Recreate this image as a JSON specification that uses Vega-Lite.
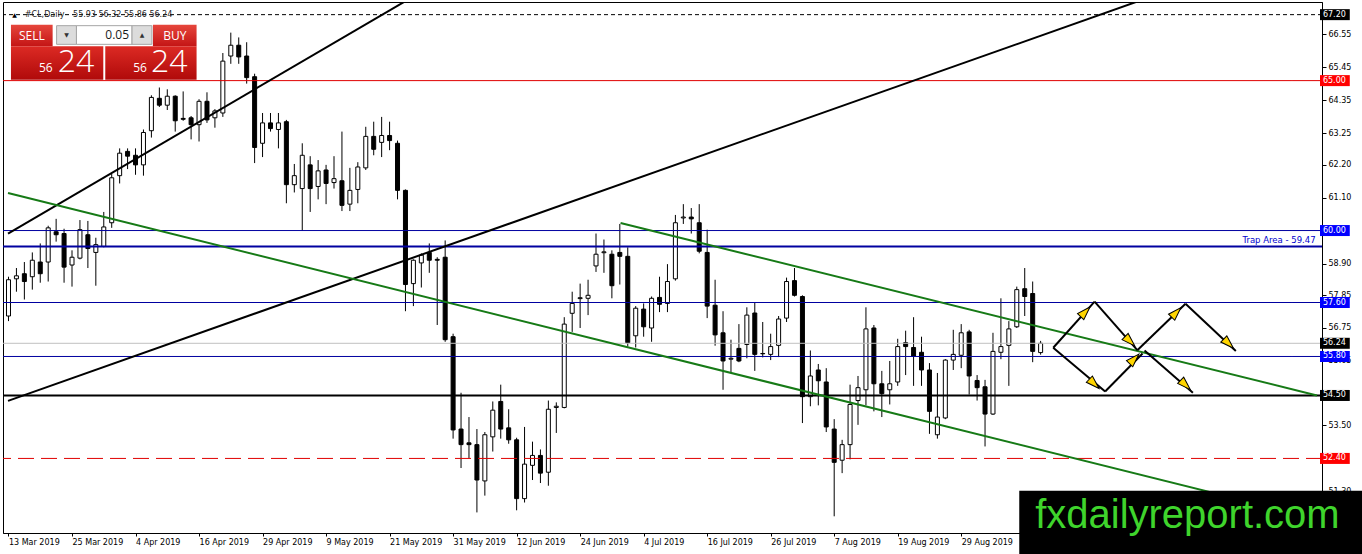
{
  "$schema": "https://vega.github.io/schema/vega-lite/v6.json",
  "description": "#CL Daily candlestick chart with trend lines, levels and projected path",
  "width": 1319,
  "height": 531,
  "autosize": {"type": "none"},
  "padding": {"left": 3, "top": 2, "right": 40, "bottom": 21},
  "background": "white",
  "config": {
    "view": {"stroke": "#000000", "strokeWidth": 1},
    "font": "DejaVu Sans",
    "axis": {"grid": false}
  },
  "datasets": {
    "candles": [
      {"i": 0, "o": 57.15, "h": 58.46, "l": 56.98, "c": 58.36},
      {"i": 1, "o": 58.39, "h": 58.75, "l": 57.96, "c": 58.49},
      {"i": 2, "o": 58.56, "h": 58.95, "l": 57.70, "c": 58.30},
      {"i": 3, "o": 58.46, "h": 59.27, "l": 58.03, "c": 59.01},
      {"i": 4, "o": 58.95, "h": 59.57, "l": 58.26, "c": 58.56},
      {"i": 5, "o": 58.95, "h": 60.16, "l": 58.30, "c": 60.09},
      {"i": 6, "o": 59.96, "h": 60.39, "l": 59.63, "c": 59.86},
      {"i": 7, "o": 59.90, "h": 60.06, "l": 58.26, "c": 58.78},
      {"i": 8, "o": 58.85, "h": 59.34, "l": 58.13, "c": 59.11},
      {"i": 9, "o": 59.08, "h": 60.35, "l": 59.04, "c": 60.03},
      {"i": 10, "o": 59.86, "h": 60.32, "l": 58.75, "c": 59.40},
      {"i": 11, "o": 59.27, "h": 59.76, "l": 58.16, "c": 59.53},
      {"i": 12, "o": 59.47, "h": 60.62, "l": 59.44, "c": 60.12},
      {"i": 13, "o": 60.26, "h": 61.89, "l": 60.09, "c": 61.76},
      {"i": 14, "o": 61.83, "h": 62.74, "l": 61.57, "c": 62.58},
      {"i": 15, "o": 62.64, "h": 62.74, "l": 62.05, "c": 62.48},
      {"i": 16, "o": 62.51, "h": 62.74, "l": 61.86, "c": 62.19},
      {"i": 17, "o": 62.19, "h": 63.37, "l": 61.83, "c": 63.27},
      {"i": 18, "o": 63.33, "h": 64.51, "l": 63.10, "c": 64.44},
      {"i": 19, "o": 64.41, "h": 64.77, "l": 64.12, "c": 64.18},
      {"i": 20, "o": 64.18, "h": 64.71, "l": 64.02, "c": 64.48},
      {"i": 21, "o": 64.48, "h": 64.51, "l": 63.30, "c": 63.66},
      {"i": 22, "o": 63.74, "h": 64.64, "l": 63.66, "c": 63.71},
      {"i": 23, "o": 63.76, "h": 63.82, "l": 63.04, "c": 63.53},
      {"i": 24, "o": 63.53, "h": 64.38, "l": 62.97, "c": 64.31},
      {"i": 25, "o": 64.31, "h": 64.61, "l": 63.59, "c": 63.69},
      {"i": 26, "o": 63.76, "h": 64.05, "l": 63.43, "c": 63.99},
      {"i": 27, "o": 63.92, "h": 65.92, "l": 63.79, "c": 65.65},
      {"i": 28, "o": 65.82, "h": 66.60, "l": 65.56, "c": 66.18},
      {"i": 29, "o": 66.18, "h": 66.44, "l": 65.56, "c": 65.79},
      {"i": 30, "o": 65.82, "h": 66.28, "l": 64.90, "c": 65.10},
      {"i": 31, "o": 65.13, "h": 65.23, "l": 62.25, "c": 62.77},
      {"i": 32, "o": 62.91, "h": 63.92, "l": 62.45, "c": 63.59},
      {"i": 33, "o": 63.59, "h": 63.92, "l": 63.30, "c": 63.40},
      {"i": 34, "o": 63.37, "h": 63.92, "l": 62.74, "c": 63.59},
      {"i": 35, "o": 63.63, "h": 63.69, "l": 60.91, "c": 61.53},
      {"i": 36, "o": 61.53, "h": 62.22, "l": 61.27, "c": 61.83},
      {"i": 37, "o": 61.40, "h": 62.91, "l": 59.99, "c": 62.51},
      {"i": 38, "o": 62.19, "h": 62.48, "l": 60.62, "c": 61.40},
      {"i": 39, "o": 61.47, "h": 62.35, "l": 61.04, "c": 61.99},
      {"i": 40, "o": 62.02, "h": 62.19, "l": 60.88, "c": 61.57},
      {"i": 41, "o": 61.60, "h": 62.48, "l": 61.40, "c": 61.73},
      {"i": 42, "o": 61.66, "h": 63.30, "l": 60.65, "c": 60.84},
      {"i": 43, "o": 60.88, "h": 62.09, "l": 60.65, "c": 61.34},
      {"i": 44, "o": 61.37, "h": 62.28, "l": 60.91, "c": 62.12},
      {"i": 45, "o": 62.09, "h": 63.46, "l": 62.02, "c": 63.14},
      {"i": 46, "o": 63.14, "h": 63.63, "l": 62.51, "c": 62.71},
      {"i": 47, "o": 62.94, "h": 63.79, "l": 62.45, "c": 63.17},
      {"i": 48, "o": 63.17, "h": 63.63, "l": 62.68, "c": 63.00},
      {"i": 49, "o": 62.91, "h": 63.00, "l": 61.04, "c": 61.34},
      {"i": 50, "o": 61.34, "h": 61.37, "l": 57.31, "c": 58.20},
      {"i": 51, "o": 58.23, "h": 59.04, "l": 57.48, "c": 59.01},
      {"i": 52, "o": 58.92, "h": 59.24, "l": 58.10, "c": 59.18},
      {"i": 53, "o": 59.27, "h": 59.57, "l": 58.59, "c": 59.01},
      {"i": 54, "o": 59.04, "h": 59.11, "l": 56.85, "c": 59.01},
      {"i": 55, "o": 59.11, "h": 59.67, "l": 56.29, "c": 56.36},
      {"i": 56, "o": 56.46, "h": 56.56, "l": 53.06, "c": 53.35},
      {"i": 57, "o": 53.38, "h": 54.59, "l": 52.08, "c": 52.86},
      {"i": 58, "o": 52.92, "h": 53.78, "l": 52.40, "c": 52.86},
      {"i": 59, "o": 52.86, "h": 53.38, "l": 50.60, "c": 51.68},
      {"i": 60, "o": 51.65, "h": 53.28, "l": 51.16, "c": 53.19},
      {"i": 61, "o": 53.12, "h": 54.30, "l": 52.63, "c": 54.01},
      {"i": 62, "o": 54.30, "h": 54.86, "l": 53.06, "c": 53.38},
      {"i": 63, "o": 53.42, "h": 54.04, "l": 52.89, "c": 53.02},
      {"i": 64, "o": 53.02, "h": 53.09, "l": 50.67, "c": 51.06},
      {"i": 65, "o": 51.06, "h": 53.45, "l": 50.93, "c": 52.21},
      {"i": 66, "o": 52.17, "h": 52.96, "l": 51.68, "c": 52.50},
      {"i": 67, "o": 52.50, "h": 52.70, "l": 51.58, "c": 51.91},
      {"i": 68, "o": 51.94, "h": 54.33, "l": 51.49, "c": 54.04},
      {"i": 69, "o": 54.10, "h": 54.27, "l": 53.25, "c": 54.14},
      {"i": 70, "o": 54.10, "h": 57.11, "l": 54.07, "c": 56.88},
      {"i": 71, "o": 57.24, "h": 57.96, "l": 56.62, "c": 57.57},
      {"i": 72, "o": 57.73, "h": 58.23, "l": 56.75, "c": 57.76},
      {"i": 73, "o": 57.74, "h": 58.36, "l": 57.18, "c": 57.84},
      {"i": 74, "o": 58.82, "h": 59.90, "l": 58.62, "c": 59.21},
      {"i": 75, "o": 59.26, "h": 59.70, "l": 58.59, "c": 59.29},
      {"i": 76, "o": 59.21, "h": 59.34, "l": 57.74, "c": 58.16},
      {"i": 77, "o": 59.27, "h": 60.22, "l": 58.20, "c": 59.14},
      {"i": 78, "o": 59.14, "h": 59.44, "l": 56.13, "c": 56.26},
      {"i": 79, "o": 56.49, "h": 57.48, "l": 56.10, "c": 57.41},
      {"i": 80, "o": 57.38, "h": 57.57, "l": 56.46, "c": 56.79},
      {"i": 81, "o": 56.75, "h": 57.80, "l": 56.29, "c": 57.74},
      {"i": 82, "o": 57.77, "h": 58.46, "l": 57.28, "c": 57.54},
      {"i": 83, "o": 57.57, "h": 58.88, "l": 57.28, "c": 58.30},
      {"i": 84, "o": 58.39, "h": 60.52, "l": 58.33, "c": 60.26},
      {"i": 85, "o": 60.42, "h": 60.88, "l": 60.22, "c": 60.45},
      {"i": 86, "o": 60.45, "h": 60.75, "l": 59.90, "c": 60.39},
      {"i": 87, "o": 60.26, "h": 60.88, "l": 59.24, "c": 59.31},
      {"i": 88, "o": 59.27, "h": 60.03, "l": 57.08, "c": 57.48},
      {"i": 89, "o": 57.51, "h": 58.36, "l": 56.16, "c": 56.52},
      {"i": 90, "o": 56.59, "h": 57.31, "l": 54.69, "c": 55.65},
      {"i": 91, "o": 55.71, "h": 56.36, "l": 55.25, "c": 55.74},
      {"i": 92, "o": 56.07, "h": 56.88, "l": 55.61, "c": 55.65},
      {"i": 93, "o": 56.20, "h": 57.44, "l": 55.74, "c": 57.18},
      {"i": 94, "o": 57.25, "h": 57.61, "l": 55.32, "c": 55.87},
      {"i": 95, "o": 55.90, "h": 56.95, "l": 55.77, "c": 55.89},
      {"i": 96, "o": 55.87, "h": 56.56, "l": 55.68, "c": 56.13},
      {"i": 97, "o": 56.17, "h": 57.15, "l": 55.78, "c": 57.05},
      {"i": 98, "o": 57.08, "h": 58.43, "l": 56.95, "c": 58.30},
      {"i": 99, "o": 58.33, "h": 58.75, "l": 57.80, "c": 57.84},
      {"i": 100, "o": 57.80, "h": 57.84, "l": 53.58, "c": 54.46},
      {"i": 101, "o": 54.46, "h": 56.00, "l": 54.14, "c": 55.15},
      {"i": 102, "o": 55.35, "h": 55.55, "l": 54.17, "c": 54.99},
      {"i": 103, "o": 54.95, "h": 55.41, "l": 53.28, "c": 53.45},
      {"i": 104, "o": 53.38, "h": 53.71, "l": 50.47, "c": 52.27},
      {"i": 105, "o": 52.34, "h": 53.02, "l": 51.91, "c": 52.86},
      {"i": 106, "o": 52.86, "h": 54.86, "l": 52.37, "c": 54.20},
      {"i": 107, "o": 54.33, "h": 55.15, "l": 53.52, "c": 54.76},
      {"i": 108, "o": 54.69, "h": 57.44, "l": 54.17, "c": 56.72},
      {"i": 109, "o": 56.75, "h": 56.85, "l": 53.97, "c": 54.89},
      {"i": 110, "o": 54.89, "h": 55.32, "l": 53.78, "c": 54.56},
      {"i": 111, "o": 54.69, "h": 55.65, "l": 54.20, "c": 54.89},
      {"i": 112, "o": 54.95, "h": 56.39, "l": 54.82, "c": 56.13},
      {"i": 113, "o": 56.26, "h": 56.66, "l": 55.18, "c": 56.13},
      {"i": 114, "o": 56.10, "h": 57.11, "l": 54.82, "c": 55.80},
      {"i": 115, "o": 55.94, "h": 56.46, "l": 54.82, "c": 55.35},
      {"i": 116, "o": 55.35, "h": 55.58, "l": 53.22, "c": 53.97},
      {"i": 117, "o": 53.19, "h": 55.25, "l": 53.06, "c": 53.78},
      {"i": 118, "o": 53.75, "h": 55.71, "l": 53.71, "c": 55.68},
      {"i": 119, "o": 55.68, "h": 56.69, "l": 55.35, "c": 55.87},
      {"i": 120, "o": 55.84, "h": 56.88, "l": 55.41, "c": 56.59},
      {"i": 121, "o": 56.62, "h": 56.69, "l": 54.53, "c": 55.15},
      {"i": 122, "o": 55.00, "h": 55.18, "l": 54.33, "c": 54.76},
      {"i": 123, "o": 54.79, "h": 55.02, "l": 52.80, "c": 53.88},
      {"i": 124, "o": 53.88, "h": 56.59, "l": 53.85, "c": 55.97},
      {"i": 125, "o": 55.94, "h": 57.74, "l": 55.71, "c": 56.13},
      {"i": 126, "o": 56.17, "h": 56.98, "l": 54.82, "c": 56.72},
      {"i": 127, "o": 56.79, "h": 58.13, "l": 56.75, "c": 58.03},
      {"i": 128, "o": 58.06, "h": 58.75, "l": 57.15, "c": 57.80},
      {"i": 129, "o": 57.90, "h": 58.30, "l": 55.61, "c": 55.97},
      {"i": 130, "o": 55.93, "h": 56.32, "l": 55.86, "c": 56.24}
    ],
    "levels": [
      {"p": 67.2, "kind": "high"},
      {"p": 65.0, "kind": "red"},
      {"p": 60.0, "kind": "blue"},
      {"p": 59.47, "kind": "trap"},
      {"p": 57.6, "kind": "blue"},
      {"p": 56.24, "kind": "bid"},
      {"p": 55.8, "kind": "blue"},
      {"p": 54.5, "kind": "support"},
      {"p": 52.4, "kind": "reddash"}
    ],
    "trend": [
      {"line": "b1", "kind": "black", "i": -0.06, "p": 59.90},
      {"line": "b1", "kind": "black", "i": 52, "p": 67.96},
      {"line": "b2", "kind": "black", "i": -0.06, "p": 54.32},
      {"line": "b2", "kind": "black", "i": 142, "p": 67.62},
      {"line": "g1", "kind": "green", "i": -0.06, "p": 61.25},
      {"line": "g1", "kind": "green", "i": 164.81, "p": 50.39},
      {"line": "g2", "kind": "green", "i": 77.09, "p": 60.25},
      {"line": "g2", "kind": "green", "i": 164.81, "p": 54.5}
    ],
    "path": [
      {"seg": 1, "i": 131.59, "p": 56.09}, {"seg": 1, "i": 136.8, "p": 57.63},
      {"seg": 2, "i": 136.8, "p": 57.63}, {"seg": 2, "i": 142.18, "p": 56.01},
      {"seg": 3, "i": 131.59, "p": 56.09}, {"seg": 3, "i": 138.13, "p": 54.63},
      {"seg": 4, "i": 138.13, "p": 54.63}, {"seg": 4, "i": 142.84, "p": 55.9},
      {"seg": 5, "i": 142.18, "p": 56.01}, {"seg": 5, "i": 148.25, "p": 57.56},
      {"seg": 6, "i": 148.25, "p": 57.56}, {"seg": 6, "i": 154.59, "p": 55.98},
      {"seg": 7, "i": 143.09, "p": 56.0}, {"seg": 7, "i": 149.18, "p": 54.59}
    ],
    "heads": [
      {"dir": "up", "i": 135.63, "p": 57.29},
      {"dir": "down", "i": 141.25, "p": 56.31},
      {"dir": "down", "i": 136.75, "p": 54.89},
      {"dir": "up", "i": 141.8, "p": 55.72},
      {"dir": "up", "i": 147.09, "p": 57.27},
      {"dir": "down", "i": 153.68, "p": 56.23},
      {"dir": "down", "i": 148.25, "p": 54.85}
    ],
    "tags": [
      {"p": 67.2, "tone": "black"},
      {"p": 65.0, "tone": "red"},
      {"p": 60.0, "tone": "blue"},
      {"p": 57.6, "tone": "blue"},
      {"p": 56.24, "tone": "black"},
      {"p": 55.8, "tone": "blue"},
      {"p": 54.5, "tone": "black"},
      {"p": 52.4, "tone": "red"}
    ]
  },
  "layer": [
    {
      "data": {"name": "candles"},
      "mark": {"type": "rule", "color": "#000000", "strokeWidth": 1, "clip": true},
      "encoding": {
        "x": {
          "field": "i",
          "type": "quantitative",
          "scale": {"domain": [-0.0625, 164.8125], "nice": false, "zero": false},
          "axis": {
            "values": [0, 8, 16, 24, 32, 40, 48, 56, 64, 72, 80, 88, 96, 104, 112, 120],
            "labelExpr": "['13 Mar 2019','25 Mar 2019','4 Apr 2019','16 Apr 2019','29 Apr 2019','9 May 2019','21 May 2019','31 May 2019','12 Jun 2019','24 Jun 2019','4 Jul 2019','16 Jul 2019','26 Jul 2019','7 Aug 2019','19 Aug 2019','29 Aug 2019'][round(datum.value / 8)]",
            "title": null,
            "grid": false,
            "domainColor": "#000000",
            "tickColor": "#000000",
            "tickSize": 3,
            "labelAlign": "left",
            "labelBaseline": "top",
            "labelPadding": 2,
            "labelFlush": false,
            "labelOverlap": false,
            "labelFont": "DejaVu Sans",
            "labelFontSize": 8,
            "labelColor": "#000000"
          }
        },
        "y": {
          "field": "l",
          "type": "quantitative",
          "scale": {"domain": [50.08, 67.455], "nice": false, "zero": false},
          "axis": {
            "orient": "right",
            "values": [66.55, 65.45, 64.35, 63.25, 62.2, 61.1, 58.9, 57.85, 56.75, 55.65, 53.5, 51.3],
            "format": ".2f",
            "title": null,
            "grid": false,
            "domainColor": "#000000",
            "tickColor": "#000000",
            "tickSize": 4,
            "labelPadding": 2,
            "labelFlush": false,
            "labelOverlap": false,
            "labelFont": "DejaVu Sans",
            "labelFontSize": 8,
            "labelColor": "#000000"
          }
        },
        "y2": {"field": "h"}
      }
    },
    {
      "data": {"name": "candles"},
      "mark": {"type": "bar", "orient": "vertical", "width": 4, "stroke": "#000000", "strokeWidth": 1, "clip": true},
      "encoding": {
        "x": {"field": "i", "type": "quantitative"},
        "y": {"field": "o", "type": "quantitative"},
        "y2": {"field": "c"},
        "fill": {"condition": {"test": "datum.c > datum.o", "value": "#ffffff"}, "value": "#000000"}
      }
    },
    {
      "data": {"name": "levels"},
      "mark": {"type": "rule", "clip": true},
      "encoding": {
        "y": {"field": "p", "type": "quantitative"},
        "color": {
          "condition": [
            {"test": "datum.kind == 'high' || datum.kind == 'support'", "value": "#000000"},
            {"test": "datum.kind == 'red' || datum.kind == 'reddash'", "value": "#e00000"},
            {"test": "datum.kind == 'bid'", "value": "#c0c0c0"}
          ],
          "value": "#0000a0"
        },
        "strokeWidth": {"condition": {"test": "datum.kind == 'trap' || datum.kind == 'support'", "value": 2}, "value": 1},
        "strokeDash": {
          "condition": [
            {"test": "datum.kind == 'high'", "value": [4, 3]},
            {"test": "datum.kind == 'reddash'", "value": [16, 7]}
          ],
          "value": [1, 0]
        }
      }
    },
    {
      "data": {"name": "trend"},
      "mark": {"type": "line", "strokeWidth": 2, "clip": true},
      "encoding": {
        "x": {"field": "i", "type": "quantitative"},
        "y": {"field": "p", "type": "quantitative"},
        "detail": {"field": "line"},
        "color": {"condition": {"test": "datum.kind == 'green'", "value": "#167a16"}, "value": "#000000"}
      }
    },
    {
      "data": {"name": "path"},
      "mark": {"type": "line", "strokeWidth": 2, "color": "#000000", "clip": true},
      "encoding": {
        "x": {"field": "i", "type": "quantitative"},
        "y": {"field": "p", "type": "quantitative"},
        "detail": {"field": "seg"}
      }
    },
    {
      "data": {"name": "heads"},
      "transform": [{"filter": "datum.dir == 'up'"}],
      "mark": {"type": "point", "shape": "M0,-1L0.65,1L-0.65,1Z", "size": 180, "angle": 44, "filled": true, "fill": "#ffd500", "stroke": "#000000", "strokeWidth": 1, "opacity": 1},
      "encoding": {
        "x": {"field": "i", "type": "quantitative"},
        "y": {"field": "p", "type": "quantitative"}
      }
    },
    {
      "data": {"name": "heads"},
      "transform": [{"filter": "datum.dir == 'down'"}],
      "mark": {"type": "point", "shape": "M0,-1L0.65,1L-0.65,1Z", "size": 180, "angle": 134, "filled": true, "fill": "#ffd500", "stroke": "#000000", "strokeWidth": 1, "opacity": 1},
      "encoding": {
        "x": {"field": "i", "type": "quantitative"},
        "y": {"field": "p", "type": "quantitative"}
      }
    },
    {
      "data": {"values": [{}]},
      "mark": {"type": "text", "text": "Trap Area - 59.47", "align": "right", "baseline": "middle", "font": "DejaVu Sans", "fontSize": 8.5, "color": "#0000cd"},
      "encoding": {
        "x": {"datum": 164.63, "type": "quantitative"},
        "y": {"datum": 59.68, "type": "quantitative"}
      }
    },
    {
      "data": {"values": [{}]},
      "mark": {"type": "text", "text": "▲", "align": "center", "baseline": "middle", "fontSize": 6, "color": "#000000"},
      "encoding": {
        "x": {"datum": 0.75, "type": "quantitative"},
        "y": {"datum": 67.18, "type": "quantitative"}
      }
    },
    {
      "data": {"values": [{}]},
      "mark": {"type": "text", "text": "#CL,Daily", "align": "left", "baseline": "middle", "font": "DejaVu Sans", "fontSize": 8, "color": "#222222"},
      "encoding": {
        "x": {"datum": 2.06, "type": "quantitative"},
        "y": {"datum": 67.18, "type": "quantitative"}
      }
    },
    {
      "data": {"values": [{}]},
      "mark": {"type": "text", "text": "55.93 56.32 55.86 56.24", "align": "left", "baseline": "middle", "font": "DejaVu Sans", "fontSize": 8, "color": "#222222"},
      "encoding": {
        "x": {"datum": 8.13, "type": "quantitative"},
        "y": {"datum": 67.18, "type": "quantitative"}
      }
    },
    {
      "data": {"values": [{}]},
      "mark": {"type": "rect", "fill": {"gradient": "linear", "x1": 0, "y1": 0, "x2": 0, "y2": 1, "stops": [{"offset": 0, "color": "#e6463c"}, {"offset": 1, "color": "#c41515"}]}},
      "encoding": {
        "x": {"datum": 0.31, "type": "quantitative"},
        "x2": {"datum": 5.56},
        "y": {"datum": 66.865, "type": "quantitative"},
        "y2": {"datum": 66.145}
      }
    },
    {
      "data": {"values": [{}]},
      "mark": {"type": "rect", "fill": {"gradient": "linear", "x1": 0, "y1": 0, "x2": 0, "y2": 1, "stops": [{"offset": 0, "color": "#dc2a24"}, {"offset": 1, "color": "#b00a0a"}]}},
      "encoding": {
        "x": {"datum": 0.31, "type": "quantitative"},
        "x2": {"datum": 11.94},
        "y": {"datum": 66.145, "type": "quantitative"},
        "y2": {"datum": 65.03}
      }
    },
    {
      "data": {"values": [{}]},
      "mark": {"type": "rect", "fill": {"gradient": "linear", "x1": 0, "y1": 0, "x2": 0, "y2": 1, "stops": [{"offset": 0, "color": "#e6463c"}, {"offset": 1, "color": "#c41515"}]}},
      "encoding": {
        "x": {"datum": 18.19, "type": "quantitative"},
        "x2": {"datum": 23.69},
        "y": {"datum": 66.865, "type": "quantitative"},
        "y2": {"datum": 66.145}
      }
    },
    {
      "data": {"values": [{}]},
      "mark": {"type": "rect", "fill": {"gradient": "linear", "x1": 0, "y1": 0, "x2": 0, "y2": 1, "stops": [{"offset": 0, "color": "#dc2a24"}, {"offset": 1, "color": "#b00a0a"}]}},
      "encoding": {
        "x": {"datum": 12.19, "type": "quantitative"},
        "x2": {"datum": 23.69},
        "y": {"datum": 66.145, "type": "quantitative"},
        "y2": {"datum": 65.03}
      }
    },
    {
      "data": {"values": [{}]},
      "mark": {"type": "rect", "fill": "#dcdcdc", "stroke": "#a5a5a5", "strokeWidth": 1},
      "encoding": {
        "x": {"datum": 6.06, "type": "quantitative"},
        "x2": {"datum": 8.56},
        "y": {"datum": 66.832, "type": "quantitative"},
        "y2": {"datum": 66.21}
      }
    },
    {
      "data": {"values": [{}]},
      "mark": {"type": "rect", "fill": "#ffffff", "stroke": "#a5a5a5", "strokeWidth": 1},
      "encoding": {
        "x": {"datum": 8.56, "type": "quantitative"},
        "x2": {"datum": 15.56},
        "y": {"datum": 66.832, "type": "quantitative"},
        "y2": {"datum": 66.21}
      }
    },
    {
      "data": {"values": [{}]},
      "mark": {"type": "rect", "fill": "#dcdcdc", "stroke": "#a5a5a5", "strokeWidth": 1},
      "encoding": {
        "x": {"datum": 15.56, "type": "quantitative"},
        "x2": {"datum": 18.06},
        "y": {"datum": 66.832, "type": "quantitative"},
        "y2": {"datum": 66.21}
      }
    },
    {
      "data": {"values": [{}]},
      "mark": {"type": "text", "text": "SELL", "align": "center", "baseline": "middle", "font": "Open Sans", "fontSize": 12, "color": "#ffffff"},
      "encoding": {
        "x": {"datum": 2.94, "type": "quantitative"},
        "y": {"datum": 66.5, "type": "quantitative"}
      }
    },
    {
      "data": {"values": [{}]},
      "mark": {"type": "text", "text": "BUY", "align": "center", "baseline": "middle", "font": "Open Sans", "fontSize": 12, "color": "#ffffff"},
      "encoding": {
        "x": {"datum": 20.94, "type": "quantitative"},
        "y": {"datum": 66.5, "type": "quantitative"}
      }
    },
    {
      "data": {"values": [{}]},
      "mark": {"type": "text", "text": "0.05", "align": "right", "baseline": "middle", "font": "Open Sans", "fontSize": 12, "color": "#1a1a1a"},
      "encoding": {
        "x": {"datum": 15.19, "type": "quantitative"},
        "y": {"datum": 66.52, "type": "quantitative"}
      }
    },
    {
      "data": {"values": [{}]},
      "mark": {"type": "text", "text": "▼", "align": "center", "baseline": "middle", "fontSize": 6, "color": "#333333"},
      "encoding": {
        "x": {"datum": 7.31, "type": "quantitative"},
        "y": {"datum": 66.52, "type": "quantitative"}
      }
    },
    {
      "data": {"values": [{}]},
      "mark": {"type": "text", "text": "▲", "align": "center", "baseline": "middle", "fontSize": 6, "color": "#333333"},
      "encoding": {
        "x": {"datum": 16.81, "type": "quantitative"},
        "y": {"datum": 66.52, "type": "quantitative"}
      }
    },
    {
      "data": {"values": [{}]},
      "mark": {"type": "text", "text": "56", "align": "right", "baseline": "alphabetic", "font": "Open Sans", "fontSize": 12, "color": "#ffffff"},
      "encoding": {
        "x": {"datum": 5.56, "type": "quantitative"},
        "y": {"datum": 65.29, "type": "quantitative"}
      }
    },
    {
      "data": {"values": [{}]},
      "mark": {"type": "text", "text": "24", "align": "left", "baseline": "alphabetic", "font": "Open Sans", "fontSize": 32, "fontWeight": 300, "color": "#ffffff"},
      "encoding": {
        "x": {"datum": 6.19, "type": "quantitative"},
        "y": {"datum": 65.29, "type": "quantitative"}
      }
    },
    {
      "data": {"values": [{}]},
      "mark": {"type": "text", "text": "56", "align": "right", "baseline": "alphabetic", "font": "Open Sans", "fontSize": 12, "color": "#ffffff"},
      "encoding": {
        "x": {"datum": 17.44, "type": "quantitative"},
        "y": {"datum": 65.29, "type": "quantitative"}
      }
    },
    {
      "data": {"values": [{}]},
      "mark": {"type": "text", "text": "24", "align": "left", "baseline": "alphabetic", "font": "Open Sans", "fontSize": 32, "fontWeight": 300, "color": "#ffffff"},
      "encoding": {
        "x": {"datum": 17.94, "type": "quantitative"},
        "y": {"datum": 65.29, "type": "quantitative"}
      }
    },
    {
      "data": {"name": "tags"},
      "mark": {"type": "bar", "orient": "horizontal", "height": 11},
      "encoding": {
        "x": {"datum": 165.19, "type": "quantitative"},
        "x2": {"datum": 168.94},
        "y": {"field": "p", "type": "quantitative"},
        "color": {
          "condition": [
            {"test": "datum.tone == 'red'", "value": "#ff0000"},
            {"test": "datum.tone == 'blue'", "value": "#0000ff"}
          ],
          "value": "#000000"
        }
      }
    },
    {
      "data": {"name": "tags"},
      "mark": {"type": "text", "align": "left", "baseline": "middle", "font": "DejaVu Sans", "fontSize": 8, "color": "#ffffff"},
      "encoding": {
        "x": {"datum": 165.56, "type": "quantitative"},
        "y": {"field": "p", "type": "quantitative"},
        "text": {"field": "p", "type": "quantitative", "format": ".2f"}
      }
    },
    {
      "data": {"values": [{}]},
      "mark": {"type": "rect", "fill": "#000000"},
      "encoding": {
        "x": {"datum": 127.31, "type": "quantitative"},
        "x2": {"datum": 170.5},
        "y": {"datum": 51.32, "type": "quantitative"},
        "y2": {"datum": 49.2}
      }
    },
    {
      "data": {"values": [{}]},
      "mark": {"type": "text", "text": "fxdailyreport.com", "align": "left", "baseline": "alphabetic", "font": "Liberation Sans", "fontSize": 40, "color": "#3fd42c"},
      "encoding": {
        "x": {"datum": 129.31, "type": "quantitative"},
        "y": {"datum": 50.08, "type": "quantitative"}
      }
    }
  ]
}
